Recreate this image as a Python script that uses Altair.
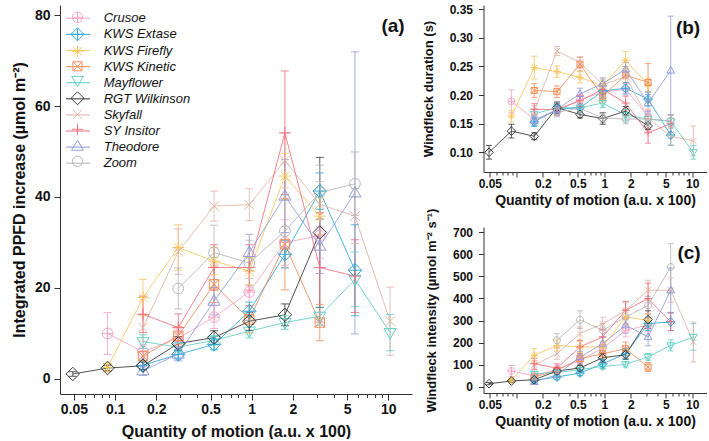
import json
import altair as alt
import pandas as pd

FONT = "Liberation Sans"
N = None

# quantity of motion (a.u. x 100) at which the points are plotted
X = [0.049, 0.088, 0.16, 0.29, 0.53, 0.96, 1.75, 3.15, 5.7, 10.3]

VARIETIES = ["Crusoe", "KWS Extase", "KWS Firefly", "KWS Kinetic", "Mayflower",
             "RGT Wilkinson", "Skyfall", "SY Insitor", "Theodore", "Zoom"]
COLORS = ["#f5a3c7", "#2ea6d8", "#f7c55e", "#f28b55", "#5ccfc5",
          "#333333", "#e2b4a6", "#f26d7d", "#8e9bd9", "#b5b5b5"]
SHAPES = [
    "M-0.8,0A0.8,0.8 0 1,0 0.8,0A0.8,0.8 0 1,0 -0.8,0M-0.8,0L0.8,0M0,-0.8L0,0.8",
    "M0,-1L1,0L0,1L-1,0ZM-1,0L1,0M0,-1L0,1",
    "M0,-0.9L0,0.9M-0.9,0L0.9,0M-0.64,-0.64L0.64,0.64M-0.64,0.64L0.64,-0.64",
    "M-0.7,-0.7L0.7,-0.7L0.7,0.7L-0.7,0.7ZM-0.7,-0.7L0.7,0.7M-0.7,0.7L0.7,-0.7",
    "M-0.9,-0.6L0.9,-0.6L0,0.95Z",
    "M0,-1L1,0L0,1L-1,0Z",
    "M-0.7,-0.7L0.7,0.7M-0.7,0.7L0.7,-0.7",
    "M-0.9,0L0.9,0M0,-0.9L0,0.9",
    "M-0.9,0.6L0.9,0.6L0,-0.95Z",
    "M-0.8,0A0.8,0.8 0 1,0 0.8,0A0.8,0.8 0 1,0 -0.8,0",
]

# (a) Integrated PPFD increase
A_MEAN = {
    "Crusoe":        [N, 10.0, 6.0, 9.0, 13.6, 19.1, 30.0, 31.5, N, N],
    "KWS Extase":    [N, N, 3.0, 5.4, 7.6, 14.9, 27.4, 41.3, 23.9, N],
    "KWS Firefly":   [N, 2.5, 17.9, 28.9, 25.9, 23.7, 44.6, 35.8, N, N],
    "KWS Kinetic":   [N, N, 5.0, 9.5, 20.8, 13.1, 29.6, 12.4, N, N],
    "Mayflower":     [N, N, 8.2, 7.0, 8.5, 10.5, 12.4, 13.8, 21.9, 10.2],
    "RGT Wilkinson": [1.1, 2.4, 2.9, 7.8, 9.1, 12.7, 14.1, 32.2, N, N],
    "Skyfall":       [N, N, 11.3, 28.0, 38.0, 38.3, 48.0, 38.4, 35.8, 12.7],
    "SY Insitor":    [N, N, 14.2, 11.3, 24.5, 24.5, 54.1, 24.5, 22.6, N],
    "Theodore":      [N, N, 1.8, 5.5, 17.1, 27.8, 40.2, 29.2, 40.9, N],
    "Zoom":          [N, N, N, 19.9, 27.8, 25.5, 32.5, 41.0, 42.9, N],
}
A_ERR = {
    "Crusoe":        [N, 4.6, 1.5, 2.0, 2.5, 3.0, 5.0, 5.0, N, N],
    "KWS Extase":    [N, N, 1.0, 1.0, 1.2, 2.0, 3.0, 4.0, 10.0, N],
    "KWS Firefly":   [N, 0.8, 4.0, 5.0, 3.0, 3.0, 5.0, 4.0, N, N],
    "KWS Kinetic":   [N, N, 1.0, 2.0, 4.0, 3.0, 10.0, 4.0, N, N],
    "Mayflower":     [N, N, 1.5, 1.0, 1.0, 1.5, 1.5, 2.0, 6.0, 4.0],
    "RGT Wilkinson": [0.5, 0.6, 0.8, 1.5, 1.5, 2.0, 2.4, 16.5, N, N],
    "Skyfall":       [N, N, 3.0, 5.0, 3.3, 3.5, 6.0, 5.0, 6.0, 7.5],
    "SY Insitor":    [N, N, 4.0, 3.0, 5.0, 5.0, 13.6, 12.0, 8.0, N],
    "Theodore":      [N, N, 1.0, 1.5, 3.0, 4.0, 8.0, 6.0, 31.0, N],
    "Zoom":          [N, N, N, 4.5, 6.0, 5.0, 8.0, 6.0, 7.0, N],
}

# (b) Windfleck duration (s)
B_MEAN = {
    "Crusoe":        [N, 0.189, 0.158, 0.172, 0.192, 0.205, 0.210, 0.163, N, N],
    "KWS Extase":    [N, N, 0.153, 0.175, 0.178, 0.207, 0.212, 0.193, 0.130, N],
    "KWS Firefly":   [N, 0.163, 0.248, 0.241, 0.231, 0.216, 0.261, 0.218, N, N],
    "KWS Kinetic":   [N, N, 0.208, 0.206, 0.254, 0.198, 0.235, 0.222, N, N],
    "Mayflower":     [N, N, 0.167, 0.178, 0.178, 0.186, 0.165, 0.158, 0.154, 0.100],
    "RGT Wilkinson": [0.100, 0.137, 0.128, 0.178, 0.166, 0.159, 0.172, 0.146, N, N],
    "Skyfall":       [N, N, 0.172, 0.277, 0.257, 0.218, 0.232, 0.160, 0.128, 0.120],
    "SY Insitor":    [N, N, 0.175, 0.175, 0.190, 0.210, 0.186, 0.134, 0.150, N],
    "Theodore":      [N, N, 0.155, 0.175, 0.202, 0.220, 0.245, 0.186, 0.243, N],
    "Zoom":          [N, N, N, 0.170, 0.177, 0.160, 0.158, 0.158, 0.155, N],
}
B_ERR = {
    "Crusoe":        [N, 0.020, 0.008, 0.008, 0.008, 0.010, 0.010, 0.010, N, N],
    "KWS Extase":    [N, N, 0.008, 0.008, 0.008, 0.010, 0.010, 0.012, 0.018, N],
    "KWS Firefly":   [N, 0.010, 0.020, 0.010, 0.010, 0.010, 0.015, 0.012, N, N],
    "KWS Kinetic":   [N, N, 0.012, 0.010, 0.012, 0.010, 0.015, 0.033, N, N],
    "Mayflower":     [N, N, 0.008, 0.008, 0.008, 0.008, 0.010, 0.010, 0.012, 0.012],
    "RGT Wilkinson": [0.012, 0.012, 0.006, 0.010, 0.006, 0.010, 0.008, 0.006, N, N],
    "Skyfall":       [N, N, 0.010, 0.008, 0.010, 0.010, 0.012, 0.015, 0.015, 0.026],
    "SY Insitor":    [N, N, 0.010, 0.010, 0.010, 0.010, 0.012, 0.018, 0.015, N],
    "Theodore":      [N, N, 0.008, 0.010, 0.010, 0.010, 0.012, 0.015, 0.095, N],
    "Zoom":          [N, N, N, 0.008, 0.008, 0.008, 0.008, 0.008, 0.010, N],
}

# (c) Windfleck intensity (umol m-2 s-1)
C_MEAN = {
    "Crusoe":        [N, 72, 50, 80, 120, 175, 256, 280, N, N],
    "KWS Extase":    [N, N, 30, 45, 63, 105, 150, 286, 294, N],
    "KWS Firefly":   [N, 30, 143, 188, 181, 181, 316, 301, N, N],
    "KWS Kinetic":   [N, N, 45, 75, 128, 150, 173, 90, N, N],
    "Mayflower":     [N, N, 60, 65, 78, 93, 102, 136, 188, 226],
    "RGT Wilkinson": [15, 27, 33, 72, 86, 132, 146, 304, N, N],
    "Skyfall":       [N, N, 100, 150, 241, 285, 346, 437, 437, 203],
    "SY Insitor":    [N, N, 105, 85, 181, 226, 346, 399, 295, N],
    "Theodore":      [N, N, 23, 55, 135, 196, 279, 226, 437, N],
    "Zoom":          [N, N, N, 211, 304, 256, 316, 369, 542, N],
}
C_ERR = {
    "Crusoe":        [N, 25, 10, 15, 20, 25, 30, 30, N, N],
    "KWS Extase":    [N, N, 8, 10, 12, 20, 25, 30, 40, N],
    "KWS Firefly":   [N, 8, 30, 25, 25, 25, 35, 30, N, N],
    "KWS Kinetic":   [N, N, 10, 15, 20, 25, 30, 20, N, N],
    "Mayflower":     [N, N, 10, 10, 10, 12, 12, 15, 25, 60],
    "RGT Wilkinson": [5, 5, 8, 12, 12, 20, 20, 40, N, N],
    "Skyfall":       [N, N, 20, 25, 30, 30, 35, 45, 55, 90],
    "SY Insitor":    [N, N, 25, 20, 30, 35, 40, 70, 40, N],
    "Theodore":      [N, N, 8, 12, 25, 30, 35, 40, 100, N],
    "Zoom":          [N, N, N, 30, 40, 30, 35, 40, 105, N],
}

XTICKS = [0.05, 0.06, 0.07, 0.08, 0.09, 0.1, 0.2, 0.3, 0.4, 0.5, 0.6, 0.7, 0.8, 0.9,
          1, 2, 3, 4, 5, 6, 7, 8, 9, 10]
MAJOR = [0.05, 0.1, 0.2, 0.5, 1, 2, 5, 10]
LABELS_A = [0.05, 0.1, 0.2, 0.5, 1, 2, 5, 10]
LABELS_BC = [0.05, 0.2, 0.5, 1, 2, 5, 10]


def to_long(mean, err):
    rows = []
    for v in VARIETIES:
        for x, m, e in zip(X, mean[v], err[v]):
            if m is None:
                continue
            e = e or 0
            rows.append({"variety": v, "x": x, "y": m, "lo": m - e, "hi": m + e})
    return pd.DataFrame(rows)


def panel(df, xdom, ydom, w, h, yvals, yfmt, ytitle, xlabels, lab_fs, xt_fs, yt_fs,
          tmaj, tmin, xlp, xtp, ylp, ytp, msize, capsize, tag, tagx, tagy, legends):
    xs = alt.Scale(type="log", domain=xdom, nice=False)
    ys = alt.Scale(domain=ydom, nice=False, zero=False)
    xaxis = alt.Axis(
        values=XTICKS,
        labelExpr="indexof(" + json.dumps(xlabels) + ", datum.value) >= 0 ? format(datum.value, '~g') : ''",
        tickSize={"condition": {"test": "indexof(" + json.dumps(MAJOR) + ", datum.value) >= 0",
                                "value": tmaj}, "value": tmin},
        labelOverlap=False, labelFlush=False, labelFontSize=lab_fs, labelPadding=xlp,
        title="Quantity of motion (a.u. x 100)", titleFontSize=xt_fs, titlePadding=xtp,
    )
    yaxis = alt.Axis(values=yvals, format=yfmt, tickSize=tmaj, labelFontSize=lab_fs,
                     labelPadding=ylp, title=ytitle, titleFontSize=yt_fs, titlePadding=ytp,
                     labelOverlap=False, labelFlush=False)
    cs = alt.Scale(domain=VARIETIES, range=COLORS)
    shs = alt.Scale(domain=VARIETIES, range=SHAPES)
    xenc = alt.X("x:Q", scale=xs, axis=xaxis)

    if legends:
        # line part of each legend key
        leg_line = alt.Legend(orient="none", legendX=10.5, legendY=5.8, title=None,
                              symbolType="M-1.85,0L1.85,0", symbolSize=169,
                              symbolStrokeWidth=1.2, labelOffset=18.2,
                              labelFont=FONT, labelFontStyle="italic", labelFontSize=13,
                              labelColor="#111", rowPadding=1.1, padding=0, symbolOpacity=0.85)
        # marker part of each legend key, drawn over the line
        leg_pt = alt.Legend(orient="none", legendX=10.5, legendY=5.3, title=None,
                            symbolSize=169, symbolStrokeWidth=1, labelExpr="''",
                            labelFontSize=13, rowPadding=0, padding=0, labelOffset=18.2)
        col_line = alt.Color("variety:N", scale=cs, legend=leg_line)
        col_pt = alt.Color("variety:N", scale=cs, legend=leg_pt)
        shp = alt.Shape("variety:N", scale=shs, legend=leg_pt)
    else:
        col_line = alt.Color("variety:N", scale=cs, legend=None)
        col_pt = alt.Color("variety:N", scale=cs, legend=None)
        shp = alt.Shape("variety:N", scale=shs, legend=None)
    col_plain = alt.Color("variety:N", scale=cs, legend=None)

    base = alt.Chart(df)
    lines = base.mark_line(strokeWidth=1, opacity=0.85).encode(
        x=xenc, y=alt.Y("y:Q", scale=ys, axis=yaxis), color=col_line)
    rules = base.mark_rule(strokeWidth=1, opacity=0.8).encode(
        x=xenc, y=alt.Y("lo:Q", scale=ys, axis=yaxis), y2="hi:Q", color=col_plain)
    cap_lo = base.mark_point(shape="M-1,0L1,0", size=capsize, filled=False, strokeWidth=1,
                             opacity=0.8).encode(
        x=xenc, y=alt.Y("lo:Q", scale=ys, axis=yaxis), color=col_plain)
    cap_hi = base.mark_point(shape="M-1,0L1,0", size=capsize, filled=False, strokeWidth=1,
                             opacity=0.8).encode(
        x=xenc, y=alt.Y("hi:Q", scale=ys, axis=yaxis), color=col_plain)
    pts = base.mark_point(size=msize, filled=False, strokeWidth=1, opacity=0.95).encode(
        x=xenc, y=alt.Y("y:Q", scale=ys, axis=yaxis), color=col_pt, shape=shp)
    txt = alt.Chart(pd.DataFrame({"t": [tag]})).mark_text(
        font=FONT, fontSize=19, fontWeight="bold", align="center", baseline="middle",
        color="#111").encode(text="t:N", x=alt.value(tagx), y=alt.value(tagy))
    layer = alt.layer(lines, rules, cap_lo, cap_hi, pts, txt).properties(width=w, height=h)
    if legends:
        layer = layer.resolve_scale(color="independent", shape="independent")
    return layer


pa = panel(to_long(A_MEAN, A_ERR), [0.03949, 14.91], [-3.3, 82.2], 352, 389,
           [0, 20, 40, 60, 80], "d", "Integrated PPFD increase (µmol m⁻²)", LABELS_A,
           14, 16, 16, 6, 3.5, 2, 7, 4, 7, 180, 64, "(a)", 333, 21, True)
pb = panel(to_long(B_MEAN, B_ERR), [0.04239, 14.54], [0.0655, 0.3575], 223, 167,
           [0.10, 0.15, 0.20, 0.25, 0.30, 0.35], ".2f", "Windfleck duration (s)", LABELS_BC,
           12, 14, 13, 5, 3, 1, 4, 6, 14, 75, 36, "(b)", 204.5, 22.5, False)
pc = panel(to_long(C_MEAN, C_ERR), [0.04239, 14.54], [-27.1, 722.6], 223, 166,
           [0, 100, 200, 300, 400, 500, 600, 700], "d", "Windfleck intensity (µmol m⁻² s⁻¹)",
           LABELS_BC, 12, 14, 13, 5, 3, 1, 4, 6, 14, 75, 36, "(c)", 205.5, 26, False)

right = alt.vconcat(pb, pc, spacing=1).resolve_scale(color="independent", shape="independent")
chart = alt.hconcat(pa, right, spacing=9.5).resolve_scale(
    color="independent", shape="independent"
).properties(
    padding={"left": 11, "top": 3, "right": 0, "bottom": 0}
).configure(font=FONT).configure_view(strokeWidth=0).configure_axis(
    domainColor="#333", tickColor="#333", labelColor="#111", titleColor="#111",
    labelFontWeight="bold", titleFontWeight="bold", labelFont=FONT, titleFont=FONT,
    grid=False, domainWidth=1, tickWidth=1,
)

chart.save("out.html", embed_options={"renderer": "svg", "actions": False})
